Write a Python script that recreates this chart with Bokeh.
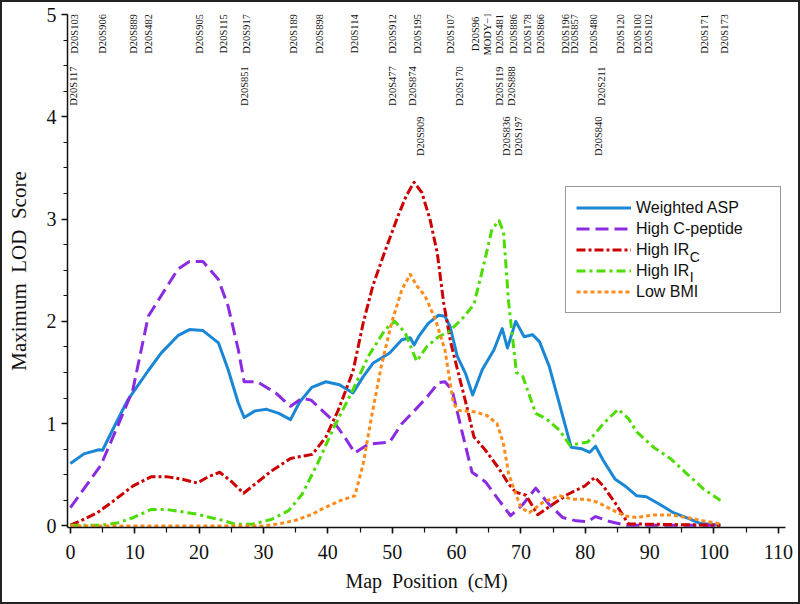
import math
from bokeh.plotting import figure
from bokeh.models import Range1d, Legend, LegendItem, Label, ColumnDataSource, FixedTicker
from bokeh.core.properties import value
from bokeh.embed import file_html
from bokeh.resources import INLINE

# ---------------- data ----------------
asp_x = [0, 2.1, 4.4, 5.0, 6.8, 8.9, 12.0, 14.1, 16.7, 18.5, 20.6, 23.0, 24.5, 26.1, 27.0, 28.7, 30.5, 32.4, 34.2,
         35.6, 37.5, 39.7, 41.8, 43.9, 45.5, 47.0, 49.6, 51.5, 52.8, 53.4, 54.1, 55.6, 57.2, 58.2, 59.0, 60.1, 61.4,
         62.5, 64.0, 65.8, 67.1, 67.9, 69.2, 70.5, 71.8, 72.9, 74.4, 75.7, 77.8, 79.4, 80.7, 81.6, 82.8, 84.6, 86.4,
         88.0, 89.5, 91.6, 93.7, 96.3, 97.9, 101.0]
asp_y = [0.61, 0.705, 0.745, 0.74, 0.97, 1.23, 1.51, 1.69, 1.86, 1.92, 1.91, 1.79, 1.53, 1.20, 1.06, 1.125, 1.14, 1.10,
         1.04, 1.21, 1.355, 1.41, 1.38, 1.30, 1.46, 1.59, 1.69, 1.82, 1.84, 1.77, 1.85, 1.98, 2.06, 2.05, 1.95, 1.66,
         1.49, 1.28, 1.53, 1.72, 1.93, 1.74, 2.00, 1.85, 1.87, 1.80, 1.56, 1.26, 0.77, 0.755, 0.72, 0.78, 0.64, 0.46,
         0.38, 0.295, 0.285, 0.21, 0.13, 0.066, 0.023, 0.01]

cpep_x = [0, 4.7, 7.3, 9.7, 12.1, 14.1, 16.7, 18.5, 20.6, 23.0, 24.5, 26.1, 27.0, 29.0, 31.9, 34.2, 36.0, 37.4, 40.8,
          42.6, 44.2, 46.3, 49.6, 51.5, 53.5, 55.4, 57.2, 58.2, 59.3, 60.8, 62.4, 64.5, 66.6, 68.4, 70.3, 72.3, 74.4,
          76.5, 78.6, 80.4, 81.6, 83.8, 86.4, 101.0]
cpep_y = [0.18, 0.59, 0.97, 1.33, 2.05, 2.25, 2.51, 2.585, 2.585, 2.41, 2.15, 1.72, 1.41, 1.41, 1.30, 1.17, 1.25, 1.23,
          1.03, 0.87, 0.715, 0.80, 0.82, 1.00, 1.13, 1.26, 1.40, 1.41, 1.33, 0.935, 0.525, 0.43, 0.25, 0.10, 0.21,
          0.37, 0.21, 0.082, 0.05, 0.043, 0.092, 0.043, 0.007, 0.007]

irc_x = [0, 1.6, 4.2, 6.8, 9.7, 12.5, 15.1, 17.2, 19.7, 21.4, 23.2, 25.1, 26.9, 28.7, 31.3, 34.2, 37.6, 39.7, 41.6,
         43.9, 45.5, 47.0, 48.9, 50.9, 52.2, 53.4, 54.6, 55.9, 57.0, 58.0, 59.1, 60.3, 61.6, 62.7, 64.5, 66.6, 68.1,
         69.2, 70.8, 72.6, 74.9, 77.3, 79.9, 81.5, 82.8, 84.8, 86.7, 101.0]
irc_y = [0.007, 0.05, 0.13, 0.25, 0.39, 0.48, 0.48, 0.46, 0.42, 0.48, 0.525, 0.43, 0.32, 0.41, 0.54, 0.66, 0.70, 0.87,
         1.13, 1.51, 1.985, 2.35, 2.69, 3.03, 3.23, 3.36, 3.26, 2.99, 2.67, 2.18, 1.79, 1.49, 1.165, 0.87, 0.74, 0.56,
         0.41, 0.33, 0.30, 0.11, 0.21, 0.31, 0.39, 0.475, 0.39, 0.21, 0.02, 0.007]

iri_x = [0, 4.7, 7.3, 9.7, 12.5, 15.1, 19.7, 21.9, 24.0, 25.6, 28.2, 31.3, 33.9, 36.0, 38.4, 41.0, 43.9, 46.3, 48.9,
         50.4, 52.0, 53.8, 55.4, 57.2, 58.8, 60.8, 62.7, 64.3, 65.5, 66.6, 67.3, 68.1, 69.3, 70.3, 72.3, 73.9, 76.0,
         77.6, 80.4, 82.8, 85.1, 86.7, 88.0, 90.6, 93.2, 95.8, 98.4, 101.0]
iri_y = [0.007, 0.007, 0.03, 0.08, 0.16, 0.16, 0.115, 0.08, 0.05, 0.016, 0.016, 0.066, 0.15, 0.31, 0.61, 0.97, 1.33,
         1.66, 1.92, 2.00, 1.89, 1.61, 1.755, 1.85, 1.90, 2.02, 2.165, 2.575, 2.90, 2.985, 2.87, 2.18, 1.50, 1.46,
         1.10, 1.05, 0.935, 0.79, 0.82, 1.0, 1.14, 1.05, 0.92, 0.77, 0.66, 0.51, 0.36, 0.25]

bmi_x = [0, 24.5, 29.8, 32.4, 35.0, 37.6, 38.9, 42.0, 44.2, 45.5, 46.8, 48.3, 49.9, 51.5, 52.8, 53.8, 55.1, 56.7, 58.2,
         59.5, 60.3, 62.9, 64.7, 66.3, 67.3, 68.1, 69.0, 70.0, 71.3, 73.4, 76.0, 78.1, 80.2, 82.0, 84.1, 86.1, 88.0,
         90.6, 93.2, 95.8, 98.4, 101.0]
bmi_y = [0.0, 0.0, 0.0, 0.02, 0.056, 0.115, 0.16, 0.25, 0.295, 0.61, 1.07, 1.56, 1.985, 2.31, 2.46, 2.35, 2.25, 2.02,
         1.72, 1.20, 1.13, 1.115, 1.08, 1.00, 0.80, 0.51, 0.345, 0.18, 0.13, 0.23, 0.295, 0.26, 0.26, 0.23, 0.16,
         0.098, 0.082, 0.108, 0.108, 0.082, 0.05, 0.02]

series_names = ["Weighted ASP", "High C-peptide", "High IR", "High IR", "Low BMI"]
subscripts = ["", "", "C", "I", ""]

marker_names = ["D20S103", "D20S906", "D20S889", "D20S482", "D20S905", "D20S115", "D20S917", "D20S189", "D20S898",
                "D20S114", "D20S912", "D20S195", "D20S107", "D20S96", "MODY\u22121", "D20S481", "D20S886", "D20S178",
                "D20S866", "D20S196", "D20S857", "D20S480", "D20S120", "D20S100", "D20S102", "D20S171", "D20S173",
                "D20S117", "D20S851", "D20S477", "D20S874", "D20S170", "D20S119", "D20S888", "D20S211",
                "D20S909", "D20S836", "D20S197", "D20S840"]
marker_pos = [0.6, 5.0, 9.8, 12.2, 20.0, 23.75, 27.3, 34.7, 38.75,
              44.2, 50.0, 53.9, 59.1, 63.0, 64.8, 66.7, 68.9, 71.1,
              73.0, 76.9, 78.4, 81.25, 85.5, 88.1, 89.8, 98.6, 101.6,
              0.5, 27.0, 50.0, 53.1, 60.5, 66.7, 68.6, 82.5,
              54.4, 67.8, 69.7, 82.0]
marker_row = [0] * 27 + [1] * 8 + [2] * 4
row_level = [4.81, 4.30, 3.81]

x_ticks = [0, 10, 20, 30, 40, 50, 60, 70, 80, 90, 100, 110]
x_minor = [0, 5, 10, 15, 20, 25, 30, 35, 40, 45, 50, 55, 60, 65, 70, 75, 80, 85, 90, 95, 100, 105, 110]
y_ticks = [0, 1, 2, 3, 4, 5]
y_minor = [0, 0.25, 0.5, 0.75, 1, 1.25, 1.5, 1.75, 2, 2.25, 2.5, 2.75, 3, 3.25, 3.5, 3.75, 4, 4.25, 4.5, 4.75, 5]

# ---------------- figure ----------------
SERIF = "Liberation Serif"
NB = "\u00a0"
p = figure(width=800, height=604, output_backend="svg", toolbar_location=None,
           x_range=Range1d(-0.45, 111.11), y_range=Range1d(-0.015, 5.0),
           min_border_left=65, min_border_right=17, min_border_top=12, min_border_bottom=79)
p.styles = {"border": "2px solid #222", "box-sizing": "border-box"}
p.outline_line_color = None
p.grid.visible = False
p.background_fill_color = "white"

for ax in (p.xaxis[0], p.yaxis[0]):
    ax.axis_line_color = "#111"
    ax.axis_line_width = 1.5
    ax.major_tick_line_color = "#111"
    ax.minor_tick_line_color = "#111"
    ax.major_tick_line_width = 1.5
    ax.minor_tick_line_width = 1.2
    ax.major_tick_in = 0
    ax.minor_tick_in = 0
    ax.major_label_text_font = SERIF
    ax.major_label_text_font_size = "20px"
    ax.major_label_text_color = "#111"
    ax.axis_label_text_font = SERIF
    ax.axis_label_text_font_style = "normal"
    ax.axis_label_text_color = "#111"

p.xaxis.ticker = FixedTicker(ticks=x_ticks, minor_ticks=x_minor)
p.yaxis.ticker = FixedTicker(ticks=y_ticks, minor_ticks=y_minor)
p.xaxis.major_tick_out = 6
p.xaxis.minor_tick_out = 5
p.yaxis.major_tick_out = 6
p.yaxis.minor_tick_out = 4
p.xaxis.major_label_standoff = 11
p.yaxis.major_label_standoff = 5
p.xaxis.axis_label = "Map" + NB + NB + "Position" + NB + NB + "(cM)"
p.yaxis.axis_label = "Maximum" + NB + NB + "LOD" + NB + NB + "Score"
p.xaxis.axis_label_text_font_size = "20px"
p.yaxis.axis_label_text_font_size = "21px"
p.xaxis.axis_label_standoff = 8
p.yaxis.axis_label_standoff = 13

colors = ["#1a87d6", "#8a2be2", "#cc0000", "#4cdc00", "#ff8c1a"]
dashes = ["solid", "13 6", "9 3 3 3", "9 4 3 4", "4 3"]
xs = [asp_x, cpep_x, irc_x, iri_x, bmi_x]
ys = [asp_y, cpep_y, irc_y, iri_y, bmi_y]

renderers = []
for xv, yv, c, d in zip(xs, ys, colors, dashes):
    r = p.line(xv, yv, line_color=c, line_width=3, line_dash=d, line_join="round")
    renderers.append(r)

legend = Legend(items=[LegendItem(label=n, renderers=[r]) for n, r in zip(series_names, renderers)],
                location=(498, 214), orientation="vertical")
legend.border_line_color = "#333"
legend.border_line_width = 1
legend.background_fill_alpha = 0
legend.padding = 10
legend.margin = 0
legend.spacing = 0
legend.label_height = 21
legend.glyph_height = 21
legend.glyph_width = 55
legend.label_width = 134
legend.label_standoff = 5
legend.label_text_font = "Liberation Sans"
legend.label_text_font_size = "16px"
legend.label_text_color = "#111"
p.add_layout(legend)

# subscripts for IR_C, IR_I legend entries
sub_y = [None, None, 2.63, 2.435, None]
for s, yy in zip(subscripts, sub_y):
    if s:
        p.add_layout(Label(x=96.25, y=yy, text=s, text_font="Liberation Sans", text_font_size="14px",
                           text_baseline="middle", text_align="left", text_color="#111"))

# marker labels along the top
src = ColumnDataSource(dict(name=marker_names, pos=marker_pos, lev=[row_level[r] for r in marker_row]))
p.text(x="pos", y="lev", text="name", source=src, angle=math.pi / 2, text_align="center",
       text_baseline="middle", text_font=value(SERIF), text_font_size="10.5px", text_color="#111")

open("out.html", "w").write(file_html(p, INLINE))
